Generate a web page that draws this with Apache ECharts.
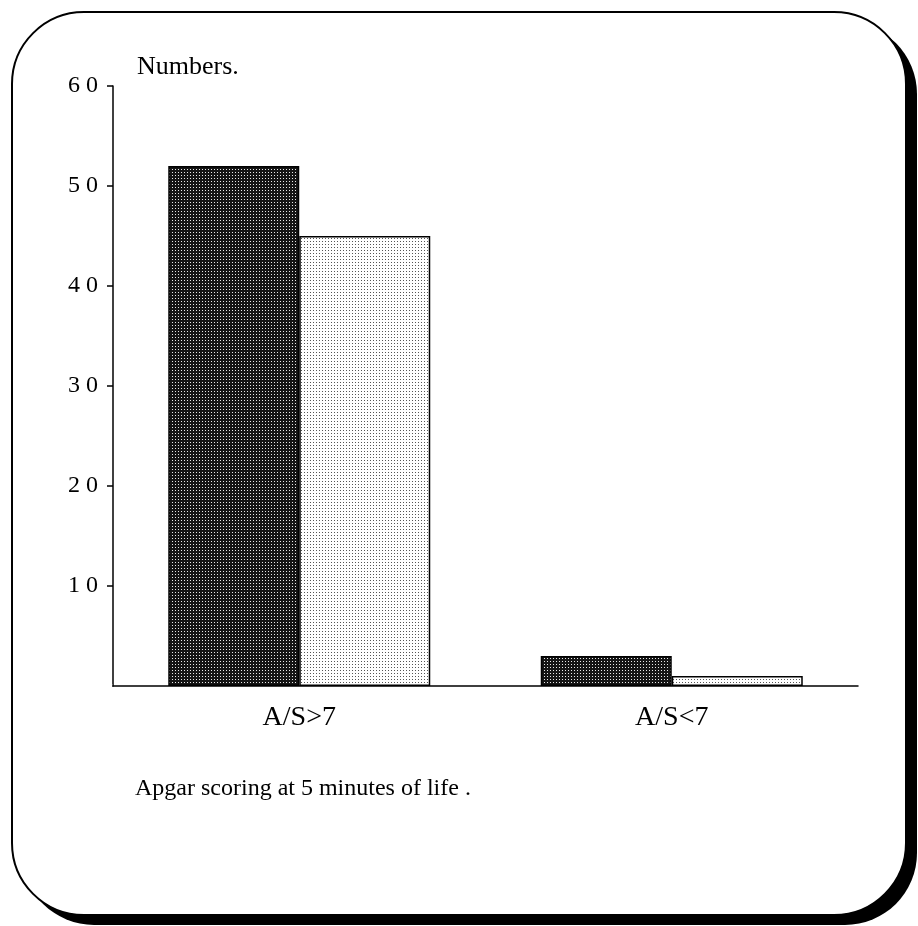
<!DOCTYPE html>
<html><head><meta charset="utf-8">
<script src="https://cdn.jsdelivr.net/npm/echarts@6/dist/echarts.min.js"></script>
<style>html,body{margin:0;padding:0;background:#fff}#c{width:918px;height:926px}</style>
</head><body><div id="c"></div>
<script>
const categories = ['A/S>7', 'A/S<7'];
const seriesA = [52, 3];
const seriesB = [45, 1];
const yTicks = [10, 20, 30, 40, 50, 60];

function makePattern(bg, dot, step) {
  const c = document.createElement('canvas');
  c.width = step; c.height = step;
  const g = c.getContext('2d');
  g.fillStyle = bg; g.fillRect(0, 0, step, step);
  g.fillStyle = dot; g.fillRect(1, 1, 1, 1);
  return c;
}
const darkPat = makePattern('#151515', '#e8e8e8', 3);
const lightPat = makePattern('#ffffff', '#555555', 3);

const chart = echarts.init(document.getElementById('c'), null, {renderer: 'canvas'});
const font = '"Liberation Serif", "Times New Roman", serif';
chart.setOption({
  animation: false,
  backgroundColor: '#fff',
  graphic: [
    {type: 'rect', z: -10, shape: {x: 22, y: 22, width: 895, height: 903, r: 72}, style: {fill: '#000'}},
    {type: 'rect', z: -9, shape: {x: 12, y: 12, width: 894, height: 903, r: 72}, style: {fill: '#fff', stroke: '#000', lineWidth: 2}},
    {type: 'rect', z: 100, shape: {x: 104, y: 684, width: 8.2, height: 4}, style: {fill: '#fff'}},
    {type: 'text', left: 137, top: 54, style: {text: 'Numbers.', font: '26px ' + font, fill: '#000'}},
    {type: 'text', left: 135, top: 777, style: {text: 'Apgar scoring at 5 minutes of life .', font: '24px ' + font, fill: '#000'}}
  ],
  grid: {left: 113, right: 60, top: 86, bottom: 240, containLabel: false},
  xAxis: {
    type: 'category', data: categories,
    axisLine: {lineStyle: {color: '#000', width: 1.5}},
    axisTick: {show: false},
    axisLabel: {color: '#000', fontFamily: font, fontSize: 28, margin: 18}
  },
  yAxis: {
    type: 'value', min: 0, max: 60, interval: 10,
    splitLine: {show: false},
    axisLine: {show: true, lineStyle: {color: '#000', width: 1.5}},
    axisTick: {show: true, length: 6, lineStyle: {color: '#000', width: 1.5}},
    axisLabel: {color: '#000', fontFamily: font, fontSize: 24, margin: 15,
      formatter: v => yTicks.indexOf(v) >= 0 ? String(v).split('').join(' ') : ''}
  },
  series: [
    {type: 'bar', data: seriesA, barWidth: 131, barGap: '0%',
      itemStyle: {color: {image: darkPat, repeat: 'repeat'}, borderColor: '#000', borderWidth: 1.5}},
    {type: 'bar', data: seriesB, barWidth: 131, barGap: '0%',
      itemStyle: {color: {image: lightPat, repeat: 'repeat'}, borderColor: '#000', borderWidth: 1.5}}
  ]
});
</script></body></html>
